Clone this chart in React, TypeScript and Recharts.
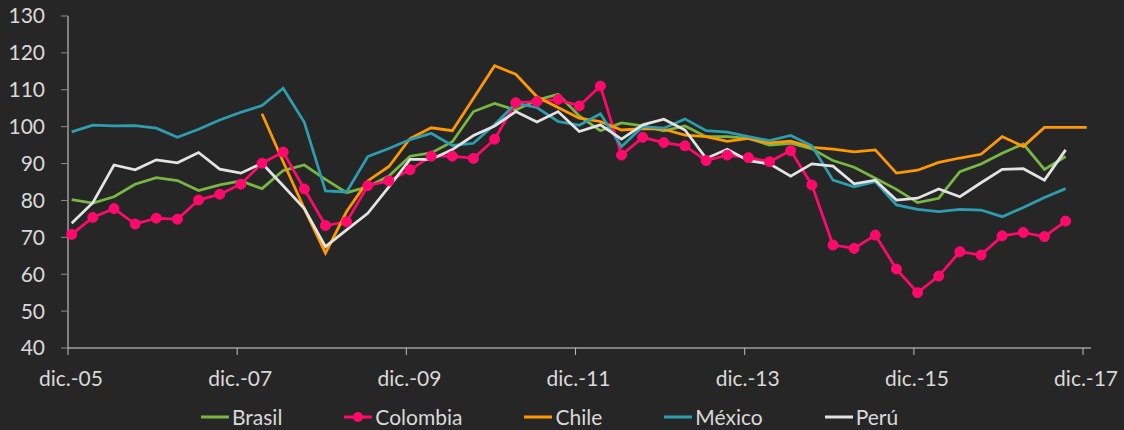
import { LineChart, Line, XAxis, YAxis } from 'recharts'

// quarterly index, 0 = dic.-05
const quarters = Array.from({ length: 49 }, (_, i) => i)

const brasil = [
  80.2, 79.3, 81.0, 84.4, 86.2, 85.4, 82.7, 84.2, 85.3, 83.2, 88.1, 89.6, 85.7, 82.1, 83.7, 86.6,
  92.0, 92.9, 95.9, 104.1, 106.3, 104.5, 107.2, 108.8, 102.9, 98.9, 101.0, 100.2, 98.9, 100.2, 97.3, 97.3,
  96.8, 95.0, 95.5, 94.0, 90.8, 89.0, 86.0, 83.0, 79.4, 80.6, 87.8, 89.9, 92.8, 95.3, 88.4, 91.9, null,
]
const colombia = [
  70.8, 75.4, 77.8, 73.6, 75.2, 74.9, 80.1, 81.7, 84.4, 90.1, 93.1, 83.1, 73.2, 74.2, 84.0, 85.3,
  88.3, 92.0, 92.0, 91.4, 96.6, 106.5, 106.8, 107.4, 105.6, 111.0, 92.3, 97.1, 95.7, 94.8, 90.8, 92.3,
  91.6, 90.5, 93.5, 84.2, 67.9, 67.0, 70.6, 61.4, 55.0, 59.5, 66.1, 65.2, 70.4, 71.3, 70.2, 74.4, null,
]
const chile = [
  null, null, null, null, null, null, null, null, null, 103.5, 90.5, 77.8, 65.7, 77.0, 85.3, 89.2,
  96.8, 99.7, 98.9, 107.7, 116.5, 114.2, 108.1, 105.2, 102.3, 101.4, 99.1, 99.5, 99.3, 97.7, 97.3, 96.0,
  96.8, 95.6, 96.1, 94.4, 93.9, 93.2, 93.7, 87.4, 88.2, 90.3, 91.5, 92.5, 97.3, 94.6, 99.8, 99.8, 99.8,
]
const mexico = [
  98.6, 100.4, 100.2, 100.3, 99.6, 97.1, 99.3, 101.8, 103.9, 105.7, 110.4, 101.2, 82.6, 82.3, 91.9, 94.1,
  96.5, 98.2, 94.9, 95.5, 100.6, 106.3, 105.2, 101.4, 100.4, 103.5, 94.6, 100.0, 99.6, 102.1, 98.9, 98.5,
  97.3, 96.2, 97.6, 94.8, 85.5, 83.7, 85.1, 78.8, 77.6, 77.0, 77.6, 77.4, 75.6, 78.1, 80.8, 83.2, null,
]
const peru = [
  73.8, 79.4, 89.6, 88.3, 91.0, 90.2, 93.0, 88.5, 87.4, 90.1, 84.0, 77.8, 67.5, 72.0, 76.5, 83.7,
  91.1, 91.1, 93.8, 97.6, 100.2, 104.1, 101.3, 104.1, 98.7, 100.5, 96.6, 100.5, 102.0, 99.1, 91.4, 93.9,
  90.8, 89.9, 86.6, 89.9, 89.3, 84.5, 85.5, 80.1, 80.6, 83.1, 81.0, 84.8, 88.4, 88.6, 85.5, 93.7, null,
]

const tickLabels = ['dic.-05', 'dic.-07', 'dic.-09', 'dic.-11', 'dic.-13', 'dic.-15', 'dic.-17']
// axis ticks sit a little before the quarterly points
const tickValues = tickLabels.map((_, k) => k * 8 - 0.175)
const yTicks = [40, 50, 60, 70, 80, 90, 100, 110, 120, 130]

const series = [
  { key: 'brasil', name: 'Brasil', color: '#78b744', dot: false },
  { key: 'colombia', name: 'Colombia', color: '#ff0a6c', dot: true },
  { key: 'chile', name: 'Chile', color: '#ff9900', dot: false },
  { key: 'mexico', name: 'México', color: '#2f9db0', dot: false },
  { key: 'peru', name: 'Perú', color: '#e3e3e3', dot: false },
]

const data = quarters.map(i => ({
  q: i,
  brasil: brasil[i],
  colombia: colombia[i],
  chile: chile[i],
  mexico: mexico[i],
  peru: peru[i],
}))

const FONT = "Lato, 'Open Sans', sans-serif"
const TEXT = '#d9d9d9'

function XTick({ x, y, payload }: any) {
  const idx = tickValues.findIndex(v => Math.abs(v - payload.value) < 0.01)
  return (
    <text x={x + 3} y={y} dy="0.71em" textAnchor="middle" fill={TEXT} fontSize={21} fontFamily={FONT}>
      {tickLabels[idx]}
    </text>
  )
}

function LegendRow() {
  return (
    <div
      style={{
        position: 'absolute', top: 403, left: 201, display: 'flex', gap: 62,
        fontFamily: FONT, fontSize: 21, color: TEXT, lineHeight: '28px',
      }}
    >
      {series.map(s => (
        <div key={s.key} style={{ display: 'flex', alignItems: 'center' }}>
          <svg width={28} height={14} style={{ marginRight: 3 }}>
            <line x1={0} x2={28} y1={7} y2={7} stroke={s.color} strokeWidth={3} />
            {s.dot && <circle cx={14} cy={7} r={5} fill={s.color} />}
          </svg>
          <span>{s.name}</span>
        </div>
      ))}
    </div>
  )
}

export default function App() {
  return (
    <div style={{ position: 'absolute', top: 0, left: 0, width: 1124, height: 430, background: '#262626', overflow: 'hidden' }}>
      <LineChart width={1124} height={400} data={data} margin={{ top: 16, right: 33, left: 0, bottom: 22 }}>
        <XAxis
          dataKey="q"
          type="number"
          domain={[-0.175, 48.2]}
          ticks={tickValues}
          tick={<XTick />}
          interval={0}
          stroke="#d9d9d9"
          tickLine={{ stroke: '#bfbfbf' }}
          tickSize={7}
          tickMargin={16}
          height={30}
        />
        <YAxis
          domain={[40, 130]}
          ticks={yTicks}
          interval={0}
          width={68}
          stroke="#d9d9d9"
          tickLine={{ stroke: '#8c8c8c' }}
          tickSize={7}
          tickMargin={16}
          tick={{ fill: TEXT, fontSize: 21, fontFamily: FONT }}
        />
        {series.map(s => (
          <Line
            key={s.key}
            type="linear"
            dataKey={s.key}
            name={s.name}
            stroke={s.color}
            strokeWidth={2.75}
            dot={s.dot ? { r: 5, fill: s.color, stroke: s.color, strokeWidth: 1 } : false}
            connectNulls={false}
            isAnimationActive={false}
          />
        ))}
      </LineChart>
      <LegendRow />
    </div>
  )
}
